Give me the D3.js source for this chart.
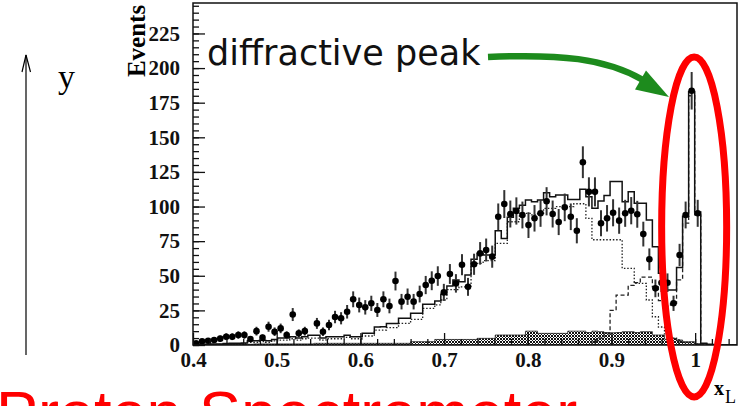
<!DOCTYPE html>
<html>
<head>
<meta charset="utf-8">
<script src="https://cdn.jsdelivr.net/npm/d3@7"></script>
<style>
body { margin: 0; background: #fff; }
svg { display: block; }
</style>
</head>
<body>
<div id="chart"></div>
<script>
// binning of the x_L histogram: 90 bins between 0.4 and 1.05
var binLow = 0.4, binHigh = 1.05, nBins = 90;

// data points (events per bin), null where no point is drawn
var events = [1.2, 2.7, 3.1, 3.6, 4.6, 6, 6, 7.2, 7.2, 4.3,
	10, 5.3, 13.2, 9.6, 12, 7.2, 22, 8.4, 10, null,
	15.6, 9.6, 14.4, 20.2, 19.3, 24, 33, 28.9, 27.2, 30.1,
	25.3, 33, 28.2, 46.2, 31.3, 34.9, 31.3, 36.8, 43.3, 46.4,
	49.8, 38, 51.3, 44.5, 58, 42, 58.3, 66.2, 68.6, 63.8,
	92.6, 101.8, 94.6, 96.8, 93.9, 86.6, 91.5, 95.1, 103.8, 94.6,
	88.8, 99.4, 92.6, 82.5, 132, 110.6, 110.6, 87.9, 91.5, 95.5,
	89.8, 95.1, 97, 94.4, 80.1, 61.9, 40.9, 45, 45, 30.1,
	65, 93.9, 183.6, 95.1];

// full MC sum (solid)
var mcTotal = [0.5, 0.5, 0.5, 0.8, 0.8, 1, 1.2, 1.2, 1.5, 3,
	3, 3.5, 3, 4, 5, 5, 6, 5, 6, 7,
	7, 5, 6, 6, 6, 7, 6, 6, 8.4, 8.4,
	13, 13.2, 15.6, 15.6, 19.3, 19.3, 22.9, 22.9, 29.4, 29.4,
	31.8, 36.6, 42.6, 47, 45.7, 50.5, 61.9, 66.2, 65, 65,
	82.5, 77, 92.2, 98.7, 101, 104.7, 103.5, 104.7, 110, 107,
	108.3, 108.3, 105, 105, 112.4, 107, 98.7, 104, 108, 118,
	118, 103.5, 110.7, 102.3, 102.3, 90.3, 71, 51.8, 39.7, 39.7,
	56, 93, 183, 96, 1.2, 0.5, 0, 0, 0, 0];

// non-diffractive MC (dotted)
var mcNonDiff = [0.3, 0.3, 0.3, 0.5, 0.5, 0.7, 0.8, 0.8, 1, 2,
	2, 2.5, 2, 3, 3.5, 3.5, 4.5, 3.5, 4.5, 5,
	5, 3.5, 4.5, 4.5, 4.5, 5.5, 4.5, 4.5, 6.5, 6.5,
	10.8, 10.8, 12.5, 12.5, 15.6, 15.6, 18.5, 18.5, 26.5, 26.5,
	29, 32.5, 40, 40, 42, 42.6, 59, 59, 61, 61,
	73.4, 73.4, 89, 89, 95, 95, 94, 95, 98.7, 98.7,
	100, 100, 100, 102, 102, 91.5, 76, 76, 76, 76,
	76, 55.4, 55.4, 44.5, 44.5, 32.5, 20.4, 13, 8, 5,
	3, 1.5, 1, 0.5, 0, 0, 0, 0, 0, 0];

// diffractive MC (dashed), starts at bin 65
var mcDiffFirstBin = 65;
var mcDiff = [0, 3, 5, 8, 25, 36, 36, 43, 45, 49,
	49, 42, 32, 28, 30, 47, 88, 180, 94, 1, 0];

// background (hatched)
var mcBackground = [0.5, 0.5, 0.5, 0.5, 0.5, 0.5, 0.5, 0.5, 0.5, 0.5,
	0.8, 0.8, 0.8, 0.8, 0.8, 0.8, 0.8, 0.8, 0.8, 0.8,
	1.2, 1.2, 1.2, 1.2, 1.2, 1.2, 1.2, 1.2, 1.2, 1.2,
	1.2, 1.2, 1.2, 1.2, 1.2, 1.2, 2.4, 2.4, 2.4, 2.4,
	4, 4, 4, 4, 4, 4, 4, 4.8, 4.8, 4.8,
	7.2, 7.2, 7.2, 7.2, 7.2, 10, 10, 8.4, 8.4, 8.4,
	8.4, 8.4, 10, 10, 10, 9, 10, 9.6, 9, 8.8,
	9, 9.6, 9.6, 9, 9.6, 9.6, 7.2, 7.2, 4.2, 4.8,
	3.6, 2.4, 2.4, 1, 0, 0, 0, 0, 0, 0];

var xTicks = [0.4, 0.5, 0.6, 0.7, 0.8, 0.9, 1.0];
var xTickLabels = ["0.4", "0.5", "0.6", "0.7", "0.8", "0.9", "1"];
var yTicks = [0, 25, 50, 75, 100, 125, 150, 175, 200, 225];

var width = 738,
	height = 406;

var binWidth = (binHigh - binLow) / nBins;
function edge(k) { return binLow + k * binWidth; }

var svg = d3.select("#chart").append("svg")
	.attr("width", width)
	.attr("height", height);

var x = d3.scaleLinear().domain([binLow, binHigh]).range([193, 737]);
var y = d3.scaleLinear().domain([0, 247]).range([345, 3]);

var defs = svg.append("defs");
defs.append("clipPath").attr("id", "plot")
	.append("rect").attr("x", 193).attr("y", 3).attr("width", 544).attr("height", 342);

// crosshatch for the background histogram
var pat = defs.append("pattern").attr("id", "hatch")
	.attr("patternUnits", "userSpaceOnUse").attr("width", 3).attr("height", 3);
pat.append("rect").attr("width", 3).attr("height", 3).attr("fill", "#fff");
pat.append("path").attr("d", "M0,0L3,3M3,0L0,3").attr("stroke", "#111").attr("stroke-width", 1);

function stepPoints(values, first) {
	first = first || 0;
	var pts = values.map((v, i) => [edge(first + i), v]);
	pts.push([edge(first + values.length), values[values.length - 1]]);
	return pts;
}

var stepLine = d3.line()
	.x(d => x(d[0]))
	.y(d => y(d[1]))
	.curve(d3.curveStepAfter);

var stepArea = d3.area()
	.x(d => x(d[0]))
	.y0(y(0))
	.y1(d => y(d[1]))
	.curve(d3.curveStepAfter);

var plot = svg.append("g").attr("clip-path", "url(#plot)");

/* histograms */
plot.append("path")
	.attr("d", stepArea(stepPoints(mcBackground)))
	.attr("fill", "url(#hatch)")
	.attr("stroke", "#222")
	.attr("stroke-width", 0.8);

plot.append("path")
	.attr("d", stepLine(stepPoints(mcNonDiff)))
	.attr("fill", "none")
	.attr("stroke", "#222")
	.attr("stroke-width", 1.3)
	.attr("stroke-dasharray", "1.5,1.8");

plot.append("path")
	.attr("d", stepLine(stepPoints(mcDiff, mcDiffFirstBin)))
	.attr("fill", "none")
	.attr("stroke", "#222")
	.attr("stroke-width", 1.3)
	.attr("stroke-dasharray", "4,2.5");

plot.append("path")
	.attr("d", stepLine(stepPoints(mcTotal)))
	.attr("fill", "none")
	.attr("stroke", "#111")
	.attr("stroke-width", 1.5);

/* data points */
var pts = events.map((v, i) => ({ k: i, v: v })).filter(d => d.v != null);

plot.selectAll("line.err")
	.data(pts)
	.enter()
	.append("line")
	.attr("class", "err")
	.attr("x1", d => x(edge(d.k + 0.5)))
	.attr("x2", d => x(edge(d.k + 0.5)))
	.attr("y1", d => y(d.v + Math.sqrt(d.v)))
	.attr("y2", d => y(Math.max(0, d.v - Math.sqrt(d.v))))
	.attr("stroke", "#333")
	.attr("stroke-width", 2);

plot.selectAll("circle")
	.data(pts)
	.enter()
	.append("circle")
	.attr("cx", d => x(edge(d.k + 0.5)))
	.attr("cy", d => y(d.v))
	.attr("r", 3.3)
	.attr("fill", "#000");

/* axes */
var serif = "'Liberation Serif', 'Times New Roman', serif";

svg.append("g")
	.attr("transform", "translate(" + x(binLow) + ",0)")
	.call(d3.axisLeft(y).tickValues(yTicks).tickSizeInner(-12).tickSizeOuter(0).tickPadding(13));
svg.append("g")
	.attr("transform", "translate(" + x(binLow) + ",0)")
	.call(d3.axisLeft(y).tickValues(d3.range(0, 246, 5)).tickSizeInner(-6).tickSizeOuter(0).tickFormat(""));

svg.append("g")
	.attr("transform", "translate(0," + y(0) + ")")
	.call(d3.axisBottom(x).tickValues(xTicks).tickSizeInner(-12).tickSizeOuter(0).tickPadding(7)
		.tickFormat((d, i) => xTickLabels[i]));
svg.append("g")
	.attr("transform", "translate(0," + y(0) + ")")
	.call(d3.axisBottom(x).tickValues(d3.range(0.42, 1.05, 0.02)).tickSizeInner(-6).tickSizeOuter(0).tickFormat(""));

svg.selectAll(".domain").remove();
svg.selectAll(".tick line").attr("stroke", "#111").attr("stroke-width", 1.3);
svg.selectAll(".tick text")
	.attr("fill", "#111")
	.style("font-family", serif)
	.style("font-weight", "bold")
	.style("font-size", "21px");

// frame
svg.append("rect")
	.attr("x", x(binLow)).attr("y", y(247))
	.attr("width", x(binHigh) - x(binLow)).attr("height", y(0) - y(247))
	.attr("fill", "none").attr("stroke", "#111").attr("stroke-width", 1.5);

// axis titles
svg.append("text")
	.attr("transform", "translate(145,41) rotate(-90)")
	.attr("text-anchor", "middle")
	.style("font-family", serif).style("font-weight", "bold").style("font-size", "25px")
	.text("Events");

var xl = svg.append("text")
	.attr("x", 714).attr("y", 395)
	.style("font-family", serif).style("font-weight", "bold").style("font-size", "20px")
	.text("x");
xl.append("tspan").attr("dx", 1).attr("dy", 8).style("font-weight", "normal").style("font-size", "18px").text("L");

/* annotations */
// y arrow on the left
svg.append("line").attr("x1", 26).attr("x2", 26).attr("y1", 355).attr("y2", 55)
	.attr("stroke", "#000").attr("stroke-width", 1.2);
svg.append("path").attr("d", "M22,72L26,55L30.5,72")
	.attr("fill", "none").attr("stroke", "#000").attr("stroke-width", 1.2);
svg.append("text").attr("x", 58).attr("y", 88)
	.style("font-family", serif).style("font-size", "34px")
	.text("y");

svg.append("text").attr("x", 207).attr("y", 65)
	.style("font-family", "'DejaVu Sans', sans-serif").style("font-size", "35px")
	.attr("fill", "#111")
	.text("diffractive peak");

// green arrow
svg.append("path")
	.attr("d", "M488,57C560,54,605,58,643,80")
	.attr("fill", "none").attr("stroke", "#1d8b1d").attr("stroke-width", 6.5);
svg.append("path")
	.attr("d", "M646,70.5L635,89.5L669,97Z")
	.attr("fill", "#1d8b1d");

// red ellipse round the peak
svg.append("ellipse")
	.attr("cx", x(1.0) - 1).attr("cy", 227)
	.attr("rx", 32.5).attr("ry", 170)
	.attr("fill", "none").attr("stroke", "#f00").attr("stroke-width", 7);

svg.append("text").attr("x", -4).attr("y", 435)
	.style("font-family", "'Liberation Sans', Arial, sans-serif").style("font-size", "63px")
	.attr("fill", "#f00")
	.text("Proton Spectrometer");
</script>
</body>
</html>
